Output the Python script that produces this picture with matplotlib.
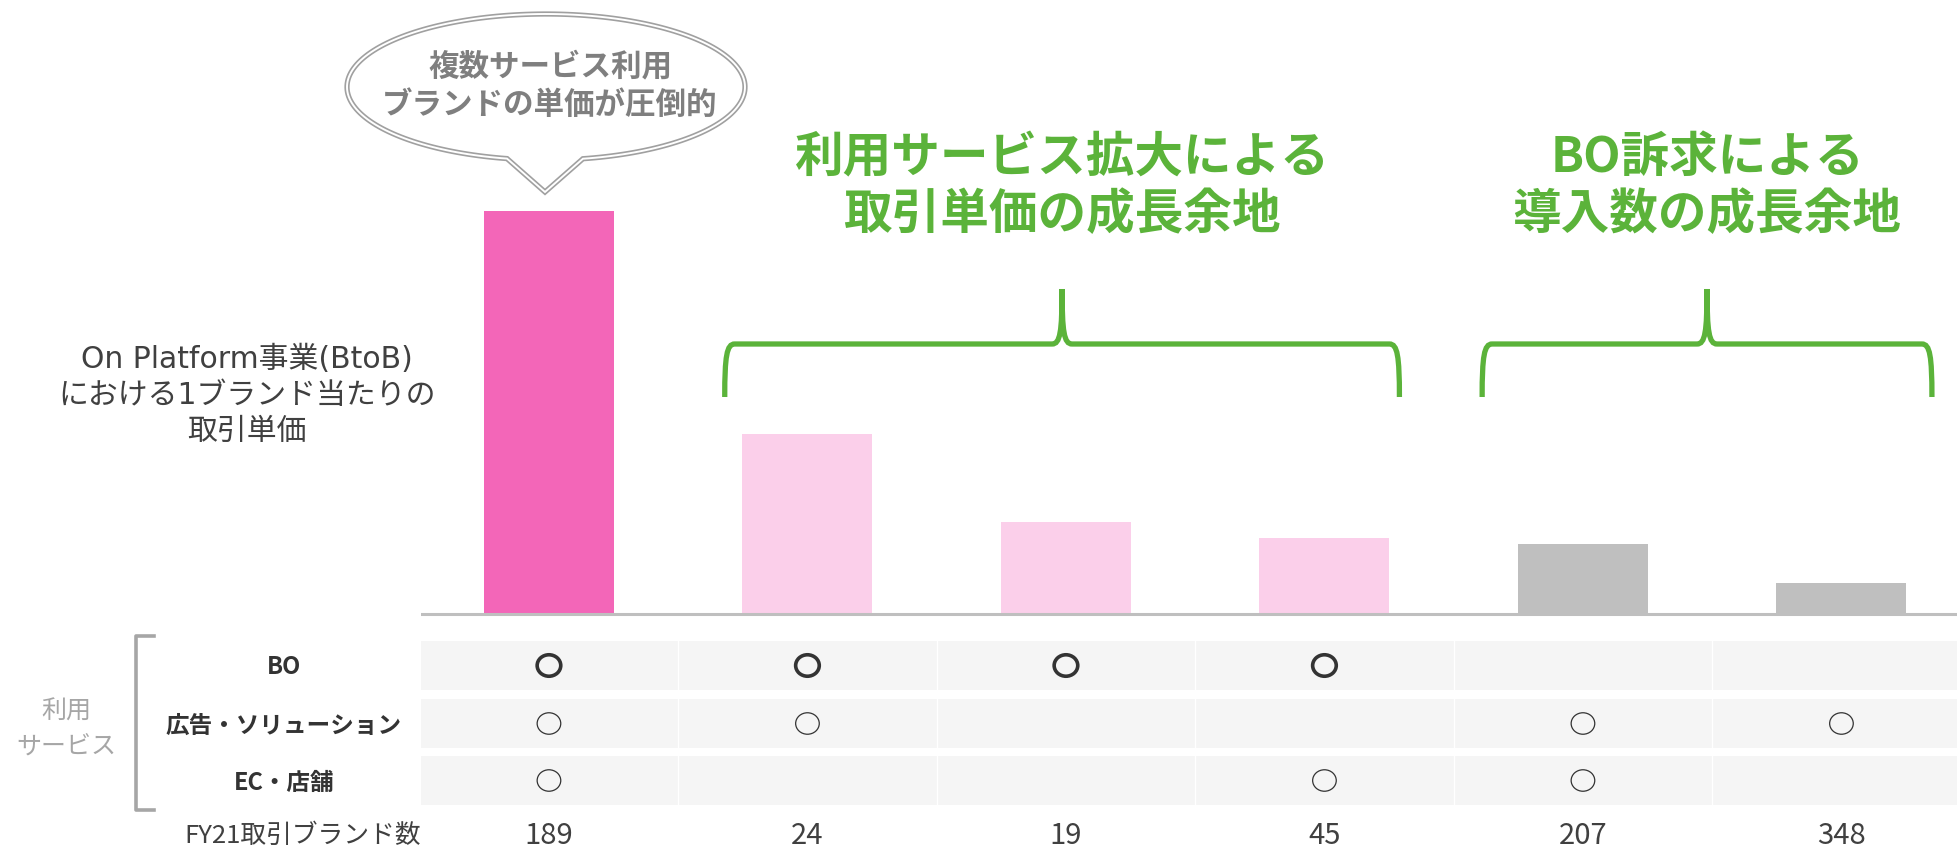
import numpy as np
import matplotlib
matplotlib.use("Agg")
from matplotlib import pyplot as plt
from matplotlib.patches import Polygon, Rectangle, PathPatch
from matplotlib.path import Path
from matplotlib.transforms import Affine2D, blended_transform_factory

plt.rcParams['font.family'] = ['Noto Sans CJK JP', 'DejaVu Sans']
latin_first = ['DejaVu Sans', 'Noto Sans CJK JP']

# --- data -------------------------------------------------------------
segments = ['A', 'B', 'C', 'D', 'E', 'F']
unit_price = [100, 44.7, 22.8, 18.9, 17.4, 7.7]   # index, first bar = 100
bar_colors = ['#F366B8', '#FBCFEA', '#FBCFEA', '#FBCFEA', '#BFBFBF', '#BFBFBF']
services = ['BO', '広告・ソリューション', 'EC・店舗']
uses_bo = [1, 1, 1, 1, 0, 0]
uses_ad = [1, 1, 0, 0, 1, 1]
uses_ec = [1, 0, 0, 1, 1, 0]
brand_count = [189, 24, 19, 45, 207, 348]
group_first = [1, 4]
group_last = [3, 5]
group_text = ['利用サービス拡大による\n取引単価の成長余地', 'BO訴求による\n導入数の成長余地']
brace_pad = [(0.32, 0.29), (0.39, 0.35)]

W, H = 1957, 852
fig = plt.figure(figsize=(W / 100, H / 100), dpi=100)
px = Affine2D().scale(1 / W, -1 / H).translate(0, 1) + fig.transFigure

ax = fig.add_axes([421 / W, 0, 1536 / W, 1])
ax.set_xlim(-0.495, 5.447)
ax.set_ylim(-238 / 403 * 100, 614 / 403 * 100)
ax.axis('off')

x = np.arange(len(segments))
ax.bar(x, unit_price, width=0.503, color=bar_colors, zorder=2)
ax.axhline(0, color='#BFBFBF', lw=2.2, zorder=3)

xd_py = blended_transform_factory(ax.transData, px)
xa_py = blended_transform_factory(ax.transAxes, px)

# table rows
row_span = [(641, 690), (699, 748), (756, 805)]
for y0, y1 in row_span:
    ax.add_patch(Rectangle((0, y0), 1, y1 - y0, transform=xa_py,
                           facecolor='#F5F5F5', edgecolor='none', zorder=1))
for i in range(len(segments) - 1):
    ax.plot([i + 0.5, i + 0.5], [641, 805], transform=xd_py,
            color='white', lw=1, zorder=1.5)

oval = Path.unit_circle().transformed(Affine2D().scale(1.1, 1.0))
rows = [uses_bo, uses_ad, uses_ec]
for r, (flags, (y0, y1)) in enumerate(zip(rows, row_span)):
    yc = (y0 + y1) / 2
    xs = [i for i, f in enumerate(flags) if f]
    ax.scatter(xs, [yc] * len(xs), transform=xd_py, s=17 ** 2,
               marker=oval, facecolors='none', edgecolors='#333333',
               linewidths=2.6 if r == 0 else 0.9, zorder=4)
    fig.text(284 / W, 1 - (yc + 2) / H, services[r], fontsize=17,
             fontweight='bold', color='#333333', ha='center', va='center')

for i, n in enumerate(brand_count):
    ax.text(i, 836, str(n), transform=xd_py, fontsize=21, color='#404040',
            ha='center', va='center')
fig.text(303 / W, 1 - 836 / H, 'FY21取引ブランド数', fontsize=18.5,
         color='#404040', ha='center', va='center')

# service bracket and label
ax.plot([154, 136, 136, 154], [636, 636, 810, 810], transform=px,
        color='#A6A6A6', lw=2.6, solid_joinstyle='round', clip_on=False)
fig.text(66 / W, 1 - 729 / H, '利用\nサービス', fontsize=18, color='#A6A6A6',
         ha='center', va='center', linespacing=1.45)

# left description
fig.text(247 / W, 1 - 395 / H, 'On Platform事業(BtoB)\nにおける1ブランド当たりの\n取引単価',
         fontsize=21.5, color='#404040', ha='center', va='center',
         linespacing=1.3, family=latin_first)

# speech bubble
cx, cy, a, b = 546, 87, 199, 73
t = np.radians(np.linspace(101.3, 439.3, 200))
pts = np.column_stack([cx + a * np.cos(t), cy + b * np.sin(t)])
pts = np.vstack([pts, [[545, 192]]])
ax.add_patch(Polygon(pts, closed=True, transform=px, facecolor='white',
                     edgecolor='#A0A0A0', lw=3.8, zorder=5, clip_on=False))
ax.add_patch(Polygon(pts, closed=True, transform=px, facecolor='none',
                     edgecolor='white', lw=1.4, zorder=6, clip_on=False))
fig.text(550 / W, 1 - 86 / H, '複数サービス利用\nブランドの単価が圧倒的', fontsize=22,
         fontweight='bold', color='#7F7F7F', ha='center', va='center',
         linespacing=1.25, zorder=7)

# braces + green headings
green = '#5BB33A'
ytop, ytip, ybot = 344, 289, 397
r = 10 / 258.5
c = 10 / 258.5
for i0, i1, (pl, pr), label in zip(group_first, group_last, brace_pad, group_text):
    L, R = i0 - pl, i1 + pr
    M = (L + R) / 2
    verts = [(L, ybot), (L, ytop + 12), (L + r * 0.2, ytop), (L + r, ytop),
             (M - c, ytop),
             (M - c * 0.2, ytop), (M, ytop - 12), (M, ytip),
             (M, ytop - 12), (M + c * 0.2, ytop), (M + c, ytop),
             (R - r, ytop),
             (R - r * 0.2, ytop), (R, ytop + 12), (R, ybot)]
    codes = [Path.MOVETO, Path.CURVE4, Path.CURVE4, Path.CURVE4,
             Path.LINETO,
             Path.CURVE4, Path.CURVE4, Path.CURVE4,
             Path.CURVE4, Path.CURVE4, Path.CURVE4,
             Path.LINETO,
             Path.CURVE4, Path.CURVE4, Path.CURVE4]
    ax.add_patch(PathPatch(Path(verts, codes), transform=xd_py, facecolor='none',
                           edgecolor=green, lw=3.8, capstyle='butt', clip_on=False))
    ax.text(M, 186, label, transform=xd_py, fontsize=35, fontweight='bold',
            color=green, ha='center', va='center', linespacing=1.2)

fig.savefig('out.png', dpi=100, facecolor='white')
